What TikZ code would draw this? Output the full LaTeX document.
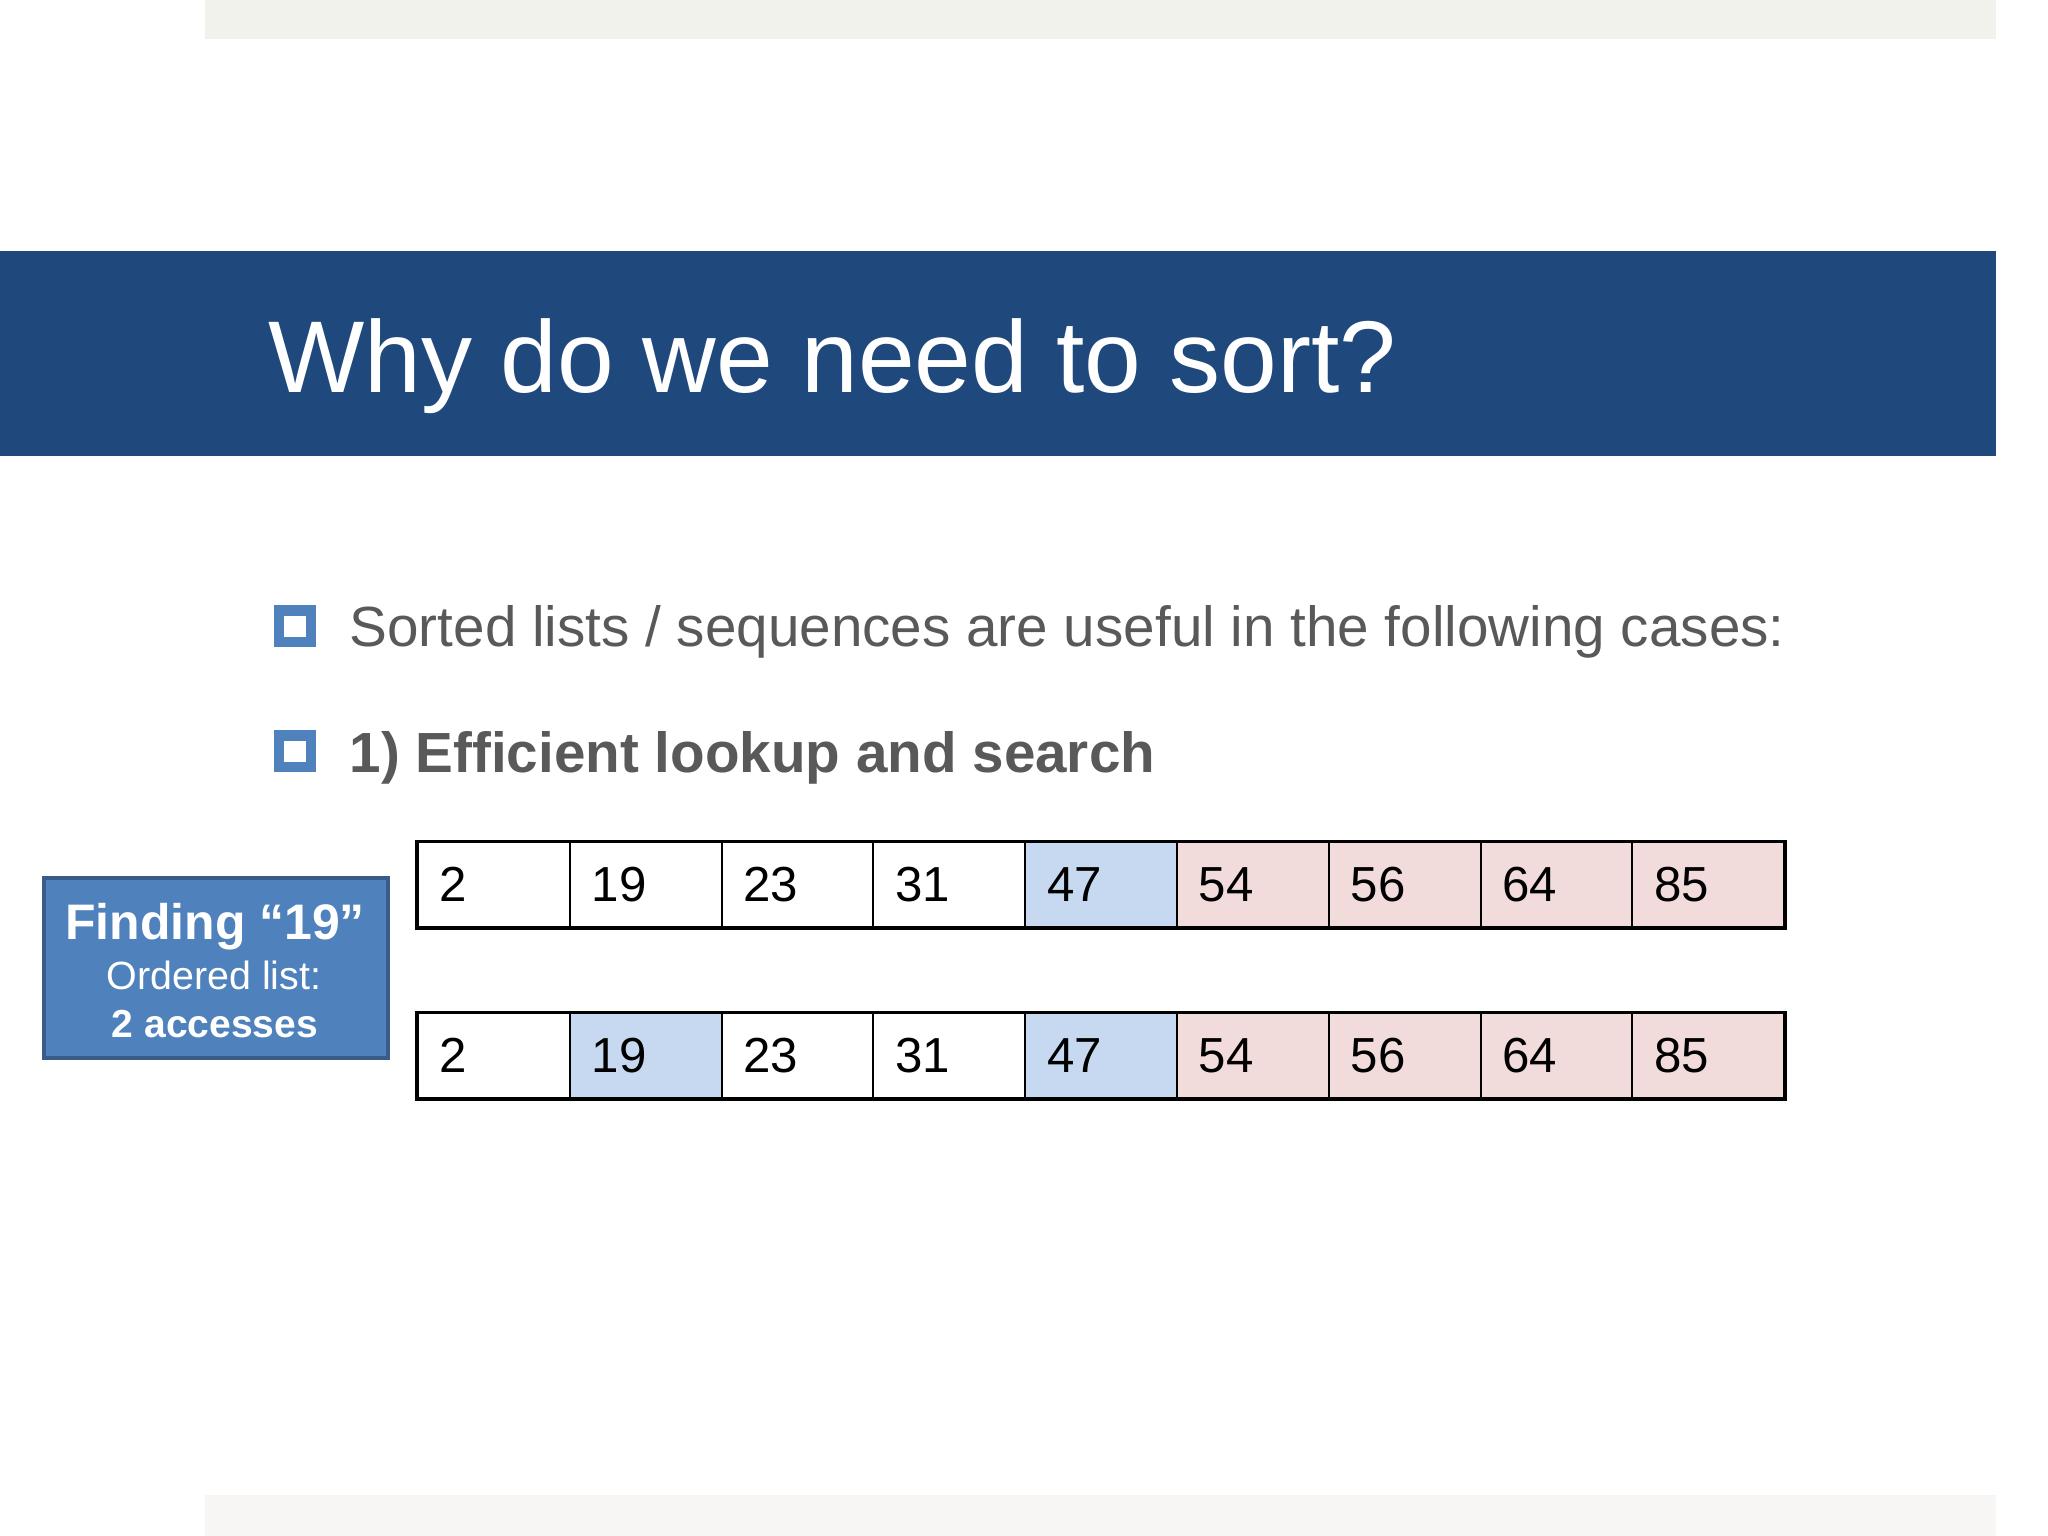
\documentclass[tikz,border=0pt]{standalone}
\usepackage{fontspec}
\setmainfont{Liberation Sans}
\definecolor{titleblue}{RGB}{31,73,125}
\definecolor{bandgray}{RGB}{242,242,236}
\definecolor{footgray}{RGB}{247,246,244}
\definecolor{textgray}{RGB}{89,89,89}
\definecolor{markblue}{RGB}{79,129,189}
\definecolor{boxedge}{RGB}{56,93,138}
\definecolor{hitblue}{RGB}{198,217,241}
\definecolor{restpink}{RGB}{242,220,219}

\begin{document}
\begin{tikzpicture}[x=0.01cm,y=-0.01cm]
\tikzstyle{cell}=[draw,line width=0.55pt,minimum width=1.518cm,minimum height=0.85cm,inner sep=0pt,text width=1.078cm,align=left,font=\fontsize{14}{16}\selectfont]
\tikzstyle{bulletbox}=[draw=markblue,fill=white,line width=0.105cm,minimum size=0.315cm,inner sep=0pt]
\tikzstyle{bullettext}=[anchor=base west,inner sep=0pt,text=textgray,font=\fontsize{16.1}{19}\selectfont]
\tikzstyle{boxtext}=[anchor=base,inner sep=0pt,text=white]
\useasboundingbox (0,0) rectangle (2048,1536);
\fill[white] (0,0) rectangle (2048,1536);
\fill[bandgray] (205,0) rectangle (1996,39);
\fill[footgray] (205,1495) rectangle (1996,1536);
\fill[titleblue] (0,251) rectangle (1996,456);
\draw (268,392) node (title) [anchor=base west,inner sep=0pt,text=white,font=\fontsize{29}{35}\selectfont] {Why do we need to sort?};
\draw (295,626) node (m1) [bulletbox] {};
\draw (295,751) node (m2) [bulletbox] {};
\draw (349,646) node (t1) [bullettext] {Sorted lists / sequences are useful in the following cases:};
\draw (349,772) node (t2) [bullettext,font=\bfseries\fontsize{16.1}{19}\selectfont] {1) Efficient lookup and search};
\draw (216,968) node (find) [draw=boxedge,fill=markblue,line width=1.1pt,minimum width=3.44cm,minimum height=1.80cm] {};
\draw (215,939) node (f1) [boxtext,font=\bfseries\fontsize{14.2}{17}\selectfont] {Finding “19”};
\draw (214,989) node (f2) [boxtext,font=\fontsize{11.2}{13}\selectfont] {Ordered list:};
\draw (215,1037) node (f3) [boxtext,font=\bfseries\fontsize{11.1}{13}\selectfont] {2 accesses};
\foreach \v/\c [count=\i] in {2/white,19/white,23/white,31/white,47/hitblue,54/restpink,56/restpink,64/restpink,85/restpink}
  \draw (418+151.8*\i-75.9,884.5) node (a\i) [cell,fill=\c] {\v};
\foreach \v/\c [count=\i] in {2/white,19/hitblue,23/white,31/white,47/hitblue,54/restpink,56/restpink,64/restpink,85/restpink}
  \draw (418+151.8*\i-75.9,1055.5) node (b\i) [cell,fill=\c] {\v};
\draw[line width=0.85pt] (a1.north west) rectangle (a9.south east);
\draw[line width=0.85pt] (b1.north west) rectangle (b9.south east);
\end{tikzpicture}
\end{document}
